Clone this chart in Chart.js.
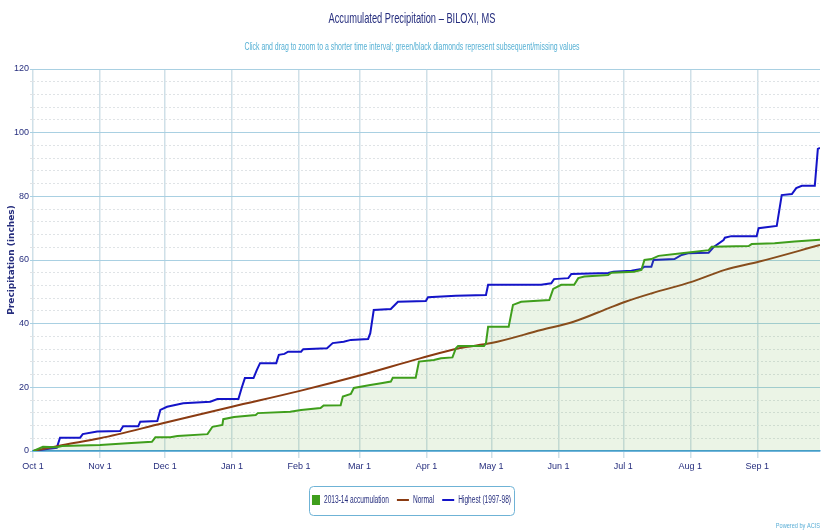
<!DOCTYPE html>
<html>
<head>
<meta charset="utf-8">
<script src="https://cdn.jsdelivr.net/npm/chart.js@4.4.1/dist/chart.umd.min.js"></script>
<style>
  body { margin: 0; background: #fff; }
  #wrap { width: 824px; height: 531px; position: relative; }
</style>
</head>
<body>
<div id="wrap"><canvas id="precipChart"></canvas></div>
<script>
// days counted from Oct 1
const monthLabels = ['Oct 1', 'Nov 1', 'Dec 1', 'Jan 1', 'Feb 1', 'Mar 1', 'Apr 1', 'May 1', 'Jun 1', 'Jul 1', 'Aug 1', 'Sep 1'];
const monthDays = [0, 31, 61, 92, 123, 151, 182, 212, 243, 273, 304, 335];

const accumDays = [0, 4.6, 11, 13.4, 31, 43.6, 55, 56.6, 63.5, 66.8, 80.7, 83, 87.6, 88, 93, 103, 104, 119, 124, 133, 134.4, 142.3, 143.3, 147, 148.4, 156, 161, 165.5, 166.4, 177, 178.5, 185.4, 188.7, 194, 195.6, 196.6, 208.6, 209.5, 210.5, 220, 222, 225.8, 238.8, 240.6, 244.3, 250.3, 252.2, 255, 266, 267.5, 278, 281.4, 282.8, 286, 289.3, 300, 312.5, 313.9, 331, 332.4, 343, 352.3, 364];
const accumValues = [0, 1.3, 1.2, 1.6, 1.9, 2.4, 2.9, 4.3, 4.3, 4.7, 5.3, 7.6, 8.2, 10, 10.7, 11.3, 11.9, 12.3, 12.9, 13.5, 14.3, 14.4, 17.1, 17.9, 19.8, 20.7, 21.3, 21.8, 23, 23, 28.1, 28.6, 29.1, 29.4, 32.3, 33, 33, 33.9, 39, 39, 45.9, 46.9, 47.4, 50.9, 52.2, 52.2, 54.3, 54.8, 55.3, 56, 56.3, 56.9, 60, 60.3, 61.3, 62.1, 63.1, 64.2, 64.4, 65, 65.3, 65.8, 66.4];

const normalDays = [0, 13.9, 31, 60, 92, 123, 151, 179, 197, 212, 235, 250, 266, 274, 286, 305, 320, 336, 364];
const normalValues = [0, 1.9, 4.0, 8.7, 13.9, 18.8, 23.7, 29.1, 32.3, 33.9, 38, 40.6, 44.8, 46.9, 49.5, 53.2, 56.9, 59.5, 64.7];

const highestDays = [0, 6.5, 11, 12.5, 21.8, 23, 29.7, 40.3, 41.7, 48.7, 49.6, 57.5, 58.9, 62, 69.5, 82, 85.3, 95, 96.5, 98, 102, 103.5, 105, 112.5, 113.7, 116.3, 118, 124, 125, 136, 138.6, 143.7, 147, 155, 156, 157.6, 165.5, 168.8, 181.7, 182.7, 195.6, 209.5, 210.5, 235, 239.7, 241, 247.6, 249, 266, 268.4, 276.8, 281.4, 282.8, 286, 287, 296.7, 300, 303, 312.5, 315, 319.4, 320, 323, 334.7, 335.6, 340, 344, 346.3, 351, 353, 355.6, 361.6, 363, 364];
const highestValues = [0, 0.6, 1.0, 4.2, 4.2, 5.3, 6.1, 6.3, 7.8, 7.8, 9.2, 9.4, 12.9, 13.9, 15, 15.5, 16.3, 16.3, 19.8, 22.9, 22.9, 25.4, 27.6, 27.6, 30.2, 30.5, 31.2, 31.2, 32, 32.3, 33.9, 34.3, 34.9, 35.2, 37, 44.3, 44.6, 46.9, 47.1, 48.3, 48.8, 49, 52.2, 52.2, 52.7, 54, 54.3, 55.6, 55.9, 56.3, 56.6, 57.2, 57.9, 57.9, 60, 60.3, 61.6, 62.1, 62.3, 64.2, 66.3, 67, 67.5, 67.5, 70, 70.4, 70.7, 80.4, 80.7, 82.6, 83.3, 83.3, 94.9, 95.2];

const titleText = 'Accumulated Precipitation – BILOXI, MS';
const subtitleText = 'Click and drag to zoom to a shorter time interval; green/black diamonds represent subsequent/missing values';

const toPoints = (days, vals) => days.map((d, i) => ({ x: d, y: vals[i] }));

const navy = '#262e7e';
const fontFam = '"Liberation Sans", Arial, sans-serif';

// narrow text like the original page (no condensed face installed)
function narrowText(c, text, x, y, size, color, squeeze, align) {
  c.save();
  c.font = size + 'px ' + fontFam;
  c.fillStyle = color;
  c.textBaseline = 'middle';
  c.textAlign = align || 'center';
  c.translate(x, y);
  c.scale(squeeze, 1);
  c.fillText(text, 0, 0);
  c.restore();
}

const headerAndLegend = {
  id: 'headerAndLegend',
  afterDraw(chart) {
    const c = chart.ctx;
    narrowText(c, titleText, 412, 19, 15, navy, 0.62);
    narrowText(c, subtitleText, 412, 47, 11, '#55b0d4', 0.63);

    // legend
    const sq = 0.66, fs = 10, gap = 4, itemGap = 8;
    c.save();
    c.font = fs + 'px ' + fontFam;
    const items = chart.data.datasets.map((ds, i) => ({
      text: ds.label,
      color: ds.borderColor,
      sym: i === 0 ? 8 : 12,
      w: c.measureText(ds.label).width * sq
    }));
    c.restore();
    let total = 0;
    items.forEach((it, i) => { total += it.sym + gap + it.w + (i ? itemGap : 0); });
    const mid = 411.5, cy = 500;
    let x = mid - total / 2;
    const boxL = Math.round(x - 3), boxR = Math.round(x + total + 3);
    c.save();
    c.strokeStyle = '#6fb3d6';
    c.lineWidth = 1;
    c.beginPath();
    c.roundRect(boxL + 0.5, 486.5, boxR - boxL, 29, 4);
    c.stroke();
    items.forEach((it, i) => {
      if (i) x += itemGap;
      c.fillStyle = it.color;
      if (i === 0) {
        c.fillRect(x, cy - 5, it.sym, 10);
      } else {
        c.fillRect(x, cy - 1, it.sym, 2);
      }
      x += it.sym + gap;
      narrowText(c, it.text, x, cy, fs, navy, sq, 'left');
      x += it.w;
    });
    c.restore();

    narrowText(c, 'Powered by ACIS', 820, 526, 8, '#5aaed6', 0.7, 'right');
  }
};

new Chart(document.getElementById('precipChart'), {
  type: 'line',
  data: {
    datasets: [
      {
        label: '2013-14 accumulation',
        data: toPoints(accumDays, accumValues),
        borderColor: '#3f9e1c',
        backgroundColor: 'rgba(120, 180, 90, 0.15)',
        fill: 'origin',
        borderWidth: 2,
        pointRadius: 0
      },
      {
        label: 'Normal',
        data: toPoints(normalDays, normalValues),
        borderColor: '#8a3b12',
        borderWidth: 2,
        pointRadius: 0,
        cubicInterpolationMode: 'monotone'
      },
      {
        label: 'Highest (1997-98)',
        data: toPoints(highestDays, highestValues),
        borderColor: '#1414c8',
        borderWidth: 2,
        pointRadius: 0
      }
    ]
  },
  options: {
    responsive: true,
    maintainAspectRatio: false,
    animation: false,
    layout: { padding: { left: 0, right: 4, top: 69, bottom: 60 } },
    plugins: {
      title: { display: false },
      subtitle: { display: false },
      legend: { display: false },
      tooltip: { enabled: false }
    },
    scales: {
      x: {
        type: 'linear',
        min: 0,
        max: 364,
        afterBuildTicks(scale) {
          scale.ticks = monthDays.map(d => ({ value: d }));
        },
        afterFit(scale) { scale.height = 20; },
        ticks: {
          autoSkip: false,
          maxRotation: 0,
          color: navy,
          padding: 3,
          font: { family: fontFam, size: 9 },
          callback: (v) => monthLabels[monthDays.indexOf(v)]
        },
        grid: {
          color: '#cfe0e8',
          lineWidth: 1.5,
          tickLength: 7
        },
        border: { color: '#3d9ad6', width: 1.5 }
      },
      y: {
        min: 0,
        max: 120,
        afterFit(scale) { scale.width = 33; },
        title: {
          display: true,
          text: 'Precipitation (inches)',
          color: navy,
          font: { family: '"DejaVu Sans", sans-serif', size: 9, weight: 'bold' },
          padding: { top: 6, bottom: 0 }
        },
        ticks: {
          stepSize: 4,
          autoSkip: false,
          color: navy,
          padding: 1,
          font: { family: fontFam, size: 9 },
          callback: (v) => (v % 20 === 0 ? v : '')
        },
        grid: {
          color: (c) => (c.tick && c.tick.value % 20 === 0 ? '#a9d0e2' : '#dfe3e6'),
          lineWidth: 1,
          tickLength: 3
        },
        border: {
          display: false,
          dash: (c) => (c.tick && c.tick.value % 20 === 0 ? [] : [2, 2])
        }
      }
    }
  },
  plugins: [headerAndLegend]
});
</script>
</body>
</html>
